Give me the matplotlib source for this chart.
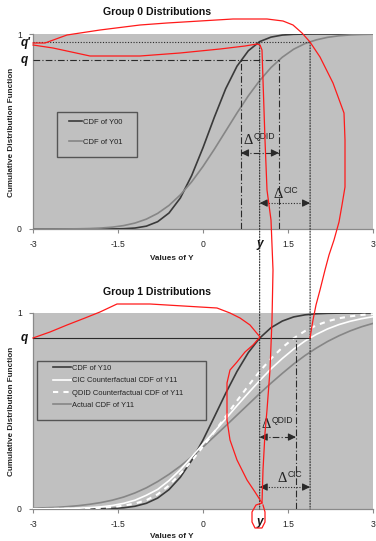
import matplotlib
matplotlib.use("Agg")
import matplotlib.pyplot as plt
from matplotlib.patches import Rectangle, ConnectionPatch
from matplotlib.lines import Line2D
from matplotlib.transforms import Affine2D

plt.rcParams['font.family'] = ['Liberation Sans', 'DejaVu Sans']

# ---------------- data ----------------
x_vals = [-3.0, -2.8, -2.6, -2.4, -2.2, -2.0, -1.8, -1.6, -1.4, -1.2, -1.0,
          -0.8, -0.6, -0.4, -0.2, 0.0, 0.2, 0.4, 0.6, 0.8, 1.0,
          1.2, 1.4, 1.6, 1.8, 2.0, 2.2, 2.4, 2.6, 2.8, 3.0]

cdf_y00 = [0, 0, 0, 0, 0, 0, 0.0001, 0.0004, 0.0015, 0.005, 0.0146,
           0.0375, 0.082, 0.159, 0.274, 0.417, 0.573, 0.719, 0.835, 0.914, 0.961,
           0.984, 0.9946, 0.9984, 0.9996, 1, 1, 1, 1, 1, 1]
cdf_y01 = [0.0, 0.0001, 0.0002, 0.0005, 0.0011, 0.0024, 0.005, 0.0095, 0.0175, 0.0305, 0.0506,
           0.0801, 0.121, 0.175, 0.242, 0.321, 0.409, 0.502, 0.595, 0.683, 0.761,
           0.828, 0.881, 0.922, 0.951, 0.970, 0.983, 0.9908, 0.9952, 0.9976, 0.9989]

cdf_y10 = [0, 0, 0, 0, 0.0001, 0.0003, 0.0009, 0.0026, 0.0062, 0.014, 0.0291,
           0.0558, 0.0989, 0.162, 0.248, 0.352, 0.470, 0.590, 0.702, 0.798, 0.872,
           0.925, 0.959, 0.980, 0.9906, 0.996, 0.9984, 0.9994, 0.9998, 1, 1]
cdf_cic = [0.001, 0.001, 0.002, 0.003, 0.004, 0.007, 0.011, 0.018, 0.029, 0.045, 0.070,
           0.100, 0.145, 0.200, 0.265, 0.332, 0.395, 0.460, 0.527, 0.592, 0.655,
           0.715, 0.768, 0.816, 0.857, 0.891, 0.919, 0.941, 0.958, 0.971, 0.981]
cdf_qdid = [0.0, 0.0, 0.0005, 0.001, 0.002, 0.003, 0.006, 0.010, 0.017, 0.028, 0.045,
            0.075, 0.120, 0.180, 0.245, 0.319, 0.394, 0.472, 0.552, 0.629, 0.702,
            0.767, 0.824, 0.871, 0.908, 0.937, 0.958, 0.973, 0.983, 0.990, 0.994]
cdf_y11 = [0.004, 0.006, 0.008, 0.012, 0.017, 0.024, 0.033, 0.045, 0.061, 0.082, 0.108,
           0.140, 0.177, 0.219, 0.266, 0.316, 0.370, 0.424, 0.479, 0.534, 0.589,
           0.642, 0.692, 0.740, 0.783, 0.821, 0.855, 0.884, 0.909, 0.930, 0.947]

x_ticks = [-3, -1.5, 0, 1.5, 3]
x_ticklabels = ['-3', '-1.5', '0', '1.5', '3']
y_ticks = [0, 1]
y_ticklabels = ['0', '1']

q_top = 0.867       # q level, group 0
q_prime = 0.958     # q' level, group 0
q_bot = 0.872       # q level, group 1
y_point = 1.0       # y
x00_q = 0.67        # F00^-1(q)
x01_q = 1.34        # F01^-1(q)
x01_qp = 1.89       # F01^-1(q')  (= CIC counterfactual point)
x_qdid = 1.64       # QDID counterfactual point in group 1

top_labels = ['CDF of Y00', 'CDF of Y01']
bot_labels = ['CDF of Y10', 'CIC Counterfactual CDF of Y11',
              'QDID Counterfactual CDF of Y11', 'Actual CDF of Y11']

# red freehand annotation strokes (figure pixel coordinates)
red_stroke_1 = [(33, 43), (45, 43), (67, 35), (100, 30), (140, 25), (167, 23), (200, 21),
                (233, 19), (267, 19), (283, 21), (293, 25), (302, 33), (310, 42),
                (320, 57), (333, 83), (344, 113), (345, 140), (345, 187), (342, 205),
                (339, 222), (334, 240), (329, 255), (325, 270), (320, 290), (316, 305),
                (313, 320), (310, 338)]
red_stroke_2 = [(33, 45), (53, 48), (90, 56), (140, 56), (180, 53), (220, 49), (245, 46),
                (257, 44), (260, 45), (262, 50), (263, 80), (264, 110), (265, 140),
                (267, 190), (271, 220), (273, 270), (272, 320), (270, 370), (267, 410),
                (265, 433), (263, 470), (262, 503), (256, 505), (252, 512), (252, 522),
                (255, 528), (262, 528), (265, 522), (265, 512), (263, 505)]
red_stroke_3 = [(33, 338), (50, 332), (67, 325), (85, 318), (100, 312), (117, 304),
                (150, 304), (200, 307), (217, 308), (230, 313), (240, 318), (250, 325),
                (260, 337), (253, 345), (245, 352), (237, 362), (230, 370), (227, 383),
                (227, 400), (227, 420), (230, 440), (237, 460), (247, 480), (255, 492),
                (262, 503)]

# ---------------- styling ----------------
W, H = 376, 541
BG = '#c0c0c0'
DARK = '#3a3a3a'
GRAY = '#868686'
LINE = '#2a2a2a'

fig = plt.figure(figsize=(W / 100, H / 100), dpi=100)


def fax(left, top, right, bottom):
    return fig.add_axes([left / W, 1 - bottom / H, (right - left) / W, (bottom - top) / H])


ax0 = fax(33, 34, 373, 229)
ax1 = fax(33, 313, 373, 509)

for ax in (ax0, ax1):
    ax.set_facecolor(BG)
    ax.set_xlim(-3, 3)
    ax.set_ylim(0, 1)
    for s in ('top', 'right'):
        ax.spines[s].set_visible(False)
    for s in ('left', 'bottom'):
        ax.spines[s].set_color('#8a8a8a')
        ax.spines[s].set_linewidth(0.9)
    ax.set_xticks(x_ticks)
    ax.set_xticklabels(x_ticklabels)
    ax.set_yticks(y_ticks)
    ax.set_yticklabels(y_ticklabels)
    ax.tick_params(axis='both', length=3, width=0.8, color='#8a8a8a', labelsize=6.2,
                   labelcolor='#222222', pad=5)
    ax.tick_params(axis='y', pad=5)

# ---------- top panel ----------
ax0.plot(x_vals, cdf_y00, color=DARK, lw=1.2, label=top_labels[0], zorder=3)
ax0.plot(x_vals, cdf_y01, color=GRAY, lw=1.2, label=top_labels[1], zorder=3)

DASHDOT = (0, (6, 2, 1, 2))
dd = dict(color=LINE, lw=0.8, zorder=4)
ax0.plot([-3, x01_qp], [q_prime, q_prime], ls=(0, (1, 1.5)), **dd)
ax0.plot([-3, x01_q], [q_top, q_top], ls=DASHDOT, **dd)
ax0.plot([x00_q, x00_q], [0, q_top], ls=DASHDOT, **dd)
ax0.plot([x01_q, x01_q], [0, q_top], ls=DASHDOT, **dd)

# spanning dotted verticals
for xv in (y_point, x01_qp):
    cp = ConnectionPatch(xyA=(xv, q_prime), coordsA=ax0.transData,
                         xyB=(xv, 0), coordsB=ax1.transData,
                         ls=(0, (1, 1.5)), color=LINE, lw=0.8, zorder=4)
    fig.add_artist(cp)


def double_arrow(ax, x1, x2, yv, ls):
    ax.plot([x1, x2], [yv, yv], ls=ls, color=LINE, lw=0.8, zorder=5)
    head = dict(arrowstyle='-|>,head_length=0.45,head_width=0.22', color=LINE, lw=0.8,
                shrinkA=0, shrinkB=0)
    ax.annotate('', xy=(x1, yv), xytext=(x1 + 0.12, yv), arrowprops=head, zorder=5)
    ax.annotate('', xy=(x2, yv), xytext=(x2 - 0.12, yv), arrowprops=head, zorder=5)


def delta_label(ax, xv, yv, sup):
    ax.text(xv, yv, 'Δ', fontsize=10.5, family=['Liberation Serif', 'DejaVu Serif'],
            ha='left', va='baseline', color='#222222', zorder=6)
    ax.annotate(sup, xy=(xv, yv), xytext=(10, 5), textcoords='offset pixels',
                fontsize=6.2, ha='left', va='baseline', color='#222222', zorder=6)


double_arrow(ax0, x00_q, x01_q, 0.39, DASHDOT)
double_arrow(ax0, y_point, x01_qp, 0.133, (0, (1, 1.5)))
delta_label(ax0, 0.72, 0.436, 'QDID')
delta_label(ax0, 1.25, 0.16, 'CIC')

# ---------- bottom panel ----------
ax1.plot(x_vals, cdf_y11, color=GRAY, lw=1.2, label=bot_labels[3], zorder=3)
ax1.plot(x_vals, cdf_y10, color=DARK, lw=1.2, label=bot_labels[0], zorder=3)
ax1.plot(x_vals, cdf_cic, color='white', lw=1.2, label=bot_labels[1], zorder=3)
ax1.plot(x_vals, cdf_qdid, color='white', lw=1.5, ls=(0, (2.5, 2.5)),
         label=bot_labels[2], zorder=3)

ax1.plot([-3, x01_qp], [q_bot, q_bot], ls='-', **dd)
ax1.plot([x_qdid, x_qdid], [0, q_bot], ls=DASHDOT, **dd)
double_arrow(ax1, y_point, x_qdid, 0.367, DASHDOT)
double_arrow(ax1, y_point, x01_qp, 0.112, (0, (1, 1.5)))
delta_label(ax1, 1.04, 0.413, 'QDID')
delta_label(ax1, 1.31, 0.138, 'CIC')

# ---------- q labels and y labels ----------
qfont = dict(fontsize=8.5, fontweight='bold', fontstyle='italic', color='#111111')
ax0.annotate("q'", xy=(0, q_prime), xycoords=ax0.get_yaxis_transform(),
             xytext=(-2, -4), textcoords='offset pixels', ha='right', va='baseline', **qfont)
ax0.annotate("q", xy=(0, q_top), xycoords=ax0.get_yaxis_transform(),
             xytext=(-5, -3), textcoords='offset pixels', ha='right', va='baseline', **qfont)
ax1.annotate("q", xy=(0, q_bot), xycoords=ax1.get_yaxis_transform(),
             xytext=(-5, -3), textcoords='offset pixels', ha='right', va='baseline', **qfont)
ax0.text(y_point, -0.045, 'y', transform=ax0.get_xaxis_transform(), ha='center',
         va='top', **qfont)
ax1.text(y_point, -0.035, 'y', transform=ax1.get_xaxis_transform(), ha='center',
         va='top', **qfont)

# ---------- legends ----------
h0, l0 = ax0.get_legend_handles_labels()
leg0 = ax0.legend(h0, l0, loc='upper left', bbox_to_anchor=(0.106, 0.566), frameon=False,
                  fontsize=5.5, handlelength=1.7, handletextpad=0.15, labelspacing=1.6,
                  borderpad=0, borderaxespad=0)
for t in leg0.get_texts():
    t.set_color('#222222')
ax0.add_patch(Rectangle((0.0706, 0.369), 0.235, 0.231, transform=ax0.transAxes,
                        fill=False, ec='#555555', lw=1.0, zorder=6))

h1, l1 = ax1.get_legend_handles_labels()
hmap = dict(zip(l1, h1))
leg1 = ax1.legend([hmap[l] for l in bot_labels], bot_labels, loc='upper left',
                  bbox_to_anchor=(0.0588, 0.736), frameon=False, fontsize=5.4,
                  handlelength=2.4, handletextpad=0.15, labelspacing=0.68,
                  borderpad=0, borderaxespad=0)
for t in leg1.get_texts():
    t.set_color('#222222')
ax1.add_patch(Rectangle((0.0118, 0.454), 0.497, 0.301, transform=ax1.transAxes,
                        fill=False, ec='#555555', lw=1.0, zorder=6))

# ---------- titles and axis labels ----------
fig.text(157 / W, 1 - 12 / H, 'Group 0 Distributions', ha='center', va='center',
         fontsize=7.6, fontweight='bold', color='#111111')
fig.text(157 / W, 1 - 292 / H, 'Group 1 Distributions', ha='center', va='center',
         fontsize=7.6, fontweight='bold', color='#111111')
for yc in (132, 411):
    fig.text(12 / W, 1 - yc / H, 'Cumulative Distribution Function', rotation=90,
             ha='center', va='center', fontsize=5.9, fontweight='bold', color='#222222')
for yc in (258, 537):
    fig.text(172 / W, 1 - yc / H, 'Values of Y', ha='center', va='center',
             fontsize=5.9, fontweight='bold', color='#222222')

# ---------- red freehand strokes ----------
px = Affine2D().scale(1 / W, -1 / H).translate(0, 1) + fig.transFigure
for stroke in (red_stroke_1, red_stroke_2, red_stroke_3):
    xs = [p[0] for p in stroke]
    ys = [p[1] for p in stroke]
    fig.add_artist(Line2D(xs, ys, transform=px, color='#ff1a1a', lw=0.9, zorder=10))

fig.savefig('out.png', dpi=100)
